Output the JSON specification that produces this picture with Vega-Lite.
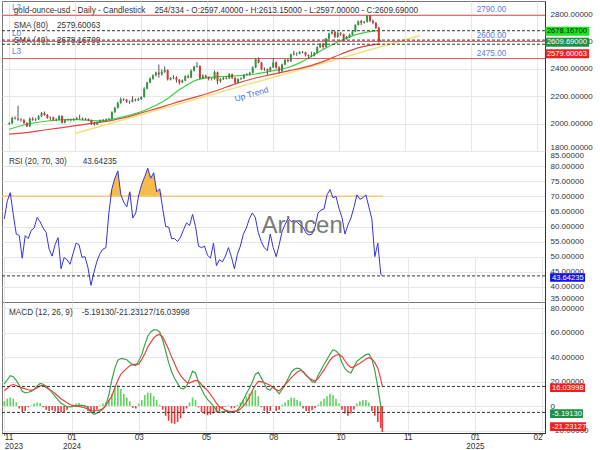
{
"$schema": "https://vega.github.io/schema/vega-lite/v6.json",
"padding": 0,
"background": "white",
"bounds": "flush",
"spacing": 0,
"config": {
 "font": "Liberation Sans",
 "view": {"stroke": "#777", "strokeWidth": 1},
 "axis": {"labelFontSize": 8, "labelColor": "#333", "gridColor": "#e6e6e6", "gridWidth": 1, "domainColor": "#333", "labelOverlap": false}
},
"datasets": {
"bars": [
{"t":0,"o":1995,"h":2010,"l":1990,"c":2002,"rsi":62.5,"macd":18.2,"sig":12.5,"hist":4},
{"t":2,"o":2002,"h":2050,"l":1998,"c":2041,"rsi":68.5,"macd":21.5,"sig":14.5,"hist":6},
{"t":4,"o":2041,"h":2052,"l":2030,"c":2036,"rsi":71.2,"macd":24.8,"sig":16.8,"hist":7},
{"t":6,"o":2036,"h":2130,"l":2020,"c":2029,"rsi":64,"macd":24,"sig":17.6,"hist":6},
{"t":8,"o":2029,"h":2040,"l":2015,"c":2025,"rsi":57.5,"macd":21,"sig":16.8,"hist":3},
{"t":10,"o":2025,"h":2034,"l":1998,"c":2004,"rsi":57,"macd":17,"sig":15.6,"hist":-2},
{"t":12,"o":2004,"h":2010,"l":1975,"c":1979,"rsi":49.5,"macd":12,"sig":14.9,"hist":-5},
{"t":14,"o":1979,"h":2045,"l":1976,"c":2036,"rsi":57,"macd":10.8,"sig":14,"hist":-4},
{"t":16,"o":2036,"h":2048,"l":2020,"c":2027,"rsi":56,"macd":11.3,"sig":13.3,"hist":-1},
{"t":18,"o":2027,"h":2040,"l":2018,"c":2031,"rsi":58.7,"macd":12,"sig":12.9,"hist":0.5},
{"t":20,"o":2031,"h":2062,"l":2025,"c":2053,"rsi":59.5,"macd":13.8,"sig":13.5,"hist":2},
{"t":22,"o":2053,"h":2085,"l":2048,"c":2077,"rsi":63,"macd":16.5,"sig":15,"hist":3},
{"t":24,"o":2077,"h":2088,"l":2058,"c":2063,"rsi":61.5,"macd":18.5,"sig":16.5,"hist":2.5},
{"t":26,"o":2063,"h":2070,"l":2035,"c":2042,"rsi":59.5,"macd":17.8,"sig":16.8,"hist":-1},
{"t":28,"o":2042,"h":2052,"l":2025,"c":2045,"rsi":58,"macd":16.2,"sig":15.2,"hist":-3},
{"t":30,"o":2045,"h":2050,"l":2022,"c":2029,"rsi":52.5,"macd":14,"sig":13.6,"hist":-4},
{"t":32,"o":2029,"h":2040,"l":2018,"c":2029,"rsi":50.2,"macd":11,"sig":12.2,"hist":-3.5},
{"t":34,"o":2029,"h":2062,"l":2025,"c":2055,"rsi":54,"macd":8,"sig":10.3,"hist":-4.5},
{"t":36,"o":2055,"h":2060,"l":2001,"c":2006,"rsi":56.3,"macd":5,"sig":8,"hist":-5},
{"t":38,"o":2006,"h":2032,"l":2002,"c":2029,"rsi":46,"macd":2.3,"sig":5.8,"hist":-5.2},
{"t":40,"o":2029,"h":2036,"l":2018,"c":2029,"rsi":49.7,"macd":0.8,"sig":4.3,"hist":-5},
{"t":42,"o":2029,"h":2035,"l":2015,"c":2025,"rsi":49,"macd":-0.5,"sig":2.8,"hist":-3},
{"t":44,"o":2025,"h":2038,"l":2018,"c":2030,"rsi":47.5,"macd":-0.6,"sig":1.3,"hist":-0.5},
{"t":46,"o":2030,"h":2048,"l":2026,"c":2038,"rsi":51,"macd":-0.2,"sig":0.4,"hist":1},
{"t":48,"o":2038,"h":2065,"l":2030,"c":2039,"rsi":54.5,"macd":0.4,"sig":0,"hist":2},
{"t":50,"o":2039,"h":2045,"l":2025,"c":2035,"rsi":54,"macd":0.6,"sig":-0.3,"hist":2.5},
{"t":52,"o":2035,"h":2042,"l":2026,"c":2033,"rsi":49.8,"macd":0.5,"sig":-0.8,"hist":1},
{"t":54,"o":2033,"h":2038,"l":2018,"c":2025,"rsi":50,"macd":0.2,"sig":-1.6,"hist":-1},
{"t":56,"o":2025,"h":2030,"l":1990,"c":2005,"rsi":46.4,"macd":-1.5,"sig":-2.6,"hist":-4},
{"t":58,"o":2005,"h":2012,"l":1985,"c":1993,"rsi":40.5,"macd":-5,"sig":-3.7,"hist":-5.5},
{"t":60,"o":1993,"h":2015,"l":1990,"c":2010,"rsi":44.8,"macd":-6.8,"sig":-4,"hist":-5},
{"t":62,"o":2010,"h":2030,"l":2005,"c":2022,"rsi":48.5,"macd":-5.8,"sig":-3.6,"hist":-3},
{"t":64,"o":2022,"h":2034,"l":2016,"c":2024,"rsi":51,"macd":-4.3,"sig":-3.1,"hist":0.5},
{"t":66,"o":2024,"h":2038,"l":2020,"c":2031,"rsi":52.5,"macd":-2.5,"sig":-2.2,"hist":2},
{"t":68,"o":2031,"h":2042,"l":2026,"c":2034,"rsi":53,"macd":1,"sig":0.5,"hist":3},
{"t":70,"o":2034,"h":2090,"l":2032,"c":2083,"rsi":64.5,"macd":9,"sig":4.5,"hist":5},
{"t":72,"o":2083,"h":2122,"l":2078,"c":2115,"rsi":72.5,"macd":21.5,"sig":8.2,"hist":10},
{"t":74,"o":2115,"h":2160,"l":2110,"c":2150,"rsi":76,"macd":31,"sig":15,"hist":15},
{"t":76,"o":2150,"h":2190,"l":2145,"c":2178,"rsi":78.4,"macd":37.5,"sig":21,"hist":17},
{"t":78,"o":2178,"h":2186,"l":2165,"c":2176,"rsi":70.5,"macd":38.8,"sig":26,"hist":14},
{"t":80,"o":2176,"h":2180,"l":2150,"c":2160,"rsi":68,"macd":38.6,"sig":28.5,"hist":10},
{"t":82,"o":2160,"h":2168,"l":2145,"c":2158,"rsi":66.5,"macd":37.8,"sig":30.8,"hist":7},
{"t":84,"o":2158,"h":2200,"l":2155,"c":2175,"rsi":71.5,"macd":35.6,"sig":33,"hist":4},
{"t":86,"o":2175,"h":2182,"l":2162,"c":2170,"rsi":62.8,"macd":33.5,"sig":34,"hist":-1.5},
{"t":88,"o":2170,"h":2190,"l":2165,"c":2178,"rsi":64.5,"macd":33,"sig":34,"hist":-2},
{"t":90,"o":2178,"h":2200,"l":2172,"c":2194,"rsi":70.5,"macd":37,"sig":34.2,"hist":2},
{"t":92,"o":2194,"h":2265,"l":2190,"c":2255,"rsi":74,"macd":42,"sig":38,"hist":5},
{"t":94,"o":2255,"h":2305,"l":2250,"c":2300,"rsi":76.5,"macd":50,"sig":42.5,"hist":9},
{"t":96,"o":2300,"h":2338,"l":2295,"c":2329,"rsi":79.3,"macd":57,"sig":48,"hist":11},
{"t":98,"o":2329,"h":2360,"l":2320,"c":2352,"rsi":76,"macd":60.5,"sig":52,"hist":10.5},
{"t":100,"o":2352,"h":2380,"l":2345,"c":2372,"rsi":77.8,"macd":62.3,"sig":55.5,"hist":8},
{"t":102,"o":2372,"h":2431,"l":2335,"c":2360,"rsi":71.5,"macd":62.3,"sig":57.8,"hist":5},
{"t":104,"o":2360,"h":2395,"l":2350,"c":2378,"rsi":72.5,"macd":60.5,"sig":58.5,"hist":1},
{"t":106,"o":2378,"h":2417,"l":2370,"c":2391,"rsi":66,"macd":54,"sig":56.5,"hist":-3},
{"t":108,"o":2391,"h":2395,"l":2315,"c":2322,"rsi":60,"macd":45,"sig":51.5,"hist":-8},
{"t":110,"o":2322,"h":2340,"l":2315,"c":2332,"rsi":59.8,"macd":35.5,"sig":46.3,"hist":-12},
{"t":112,"o":2332,"h":2352,"l":2325,"c":2336,"rsi":56,"macd":28,"sig":40,"hist":-14},
{"t":114,"o":2336,"h":2345,"l":2300,"c":2320,"rsi":56,"macd":22.5,"sig":34.5,"hist":-14.5},
{"t":116,"o":2320,"h":2325,"l":2285,"c":2301,"rsi":55,"macd":18.5,"sig":29,"hist":-13},
{"t":118,"o":2301,"h":2322,"l":2295,"c":2314,"rsi":56.5,"macd":14.5,"sig":25,"hist":-10},
{"t":120,"o":2314,"h":2352,"l":2310,"c":2346,"rsi":59,"macd":14,"sig":22,"hist":-6},
{"t":122,"o":2346,"h":2358,"l":2330,"c":2336,"rsi":61.2,"macd":16.5,"sig":19.5,"hist":-2},
{"t":124,"o":2336,"h":2395,"l":2332,"c":2386,"rsi":60.3,"macd":22,"sig":18.8,"hist":3},
{"t":126,"o":2386,"h":2422,"l":2380,"c":2415,"rsi":64,"macd":28.5,"sig":20,"hist":7},
{"t":128,"o":2415,"h":2450,"l":2410,"c":2421,"rsi":60,"macd":27,"sig":21,"hist":5},
{"t":130,"o":2421,"h":2425,"l":2325,"c":2329,"rsi":53.5,"macd":19.5,"sig":20.5,"hist":-1},
{"t":132,"o":2329,"h":2360,"l":2325,"c":2350,"rsi":53,"macd":14,"sig":17.5,"hist":-5},
{"t":134,"o":2350,"h":2358,"l":2332,"c":2338,"rsi":53.5,"macd":9,"sig":15,"hist":-6.5},
{"t":136,"o":2338,"h":2345,"l":2315,"c":2327,"rsi":50.5,"macd":5.5,"sig":12.8,"hist":-7.5},
{"t":138,"o":2327,"h":2335,"l":2315,"c":2326,"rsi":49.5,"macd":2.8,"sig":9.5,"hist":-7},
{"t":140,"o":2326,"h":2388,"l":2320,"c":2375,"rsi":54.5,"macd":0,"sig":6,"hist":-6},
{"t":142,"o":2375,"h":2380,"l":2288,"c":2310,"rsi":47,"macd":-3.5,"sig":2.2,"hist":-5},
{"t":144,"o":2310,"h":2332,"l":2298,"c":2325,"rsi":49,"macd":-5.3,"sig":-0.5,"hist":-4},
{"t":146,"o":2325,"h":2340,"l":2318,"c":2333,"rsi":48.3,"macd":-4.8,"sig":-2,"hist":-2},
{"t":148,"o":2333,"h":2345,"l":2322,"c":2330,"rsi":50.2,"macd":-4.1,"sig":-3.3,"hist":-0.5},
{"t":150,"o":2330,"h":2368,"l":2325,"c":2360,"rsi":53,"macd":-4.8,"sig":-4.1,"hist":0.5},
{"t":152,"o":2360,"h":2365,"l":2325,"c":2334,"rsi":50,"macd":-5.3,"sig":-4.3,"hist":-2},
{"t":154,"o":2334,"h":2338,"l":2295,"c":2298,"rsi":46,"macd":-4.6,"sig":-4.3,"hist":-1.5},
{"t":156,"o":2298,"h":2330,"l":2295,"c":2326,"rsi":50.8,"macd":-3.2,"sig":-4.1,"hist":1},
{"t":158,"o":2326,"h":2338,"l":2318,"c":2330,"rsi":53.5,"macd":0,"sig":-2.5,"hist":3},
{"t":160,"o":2330,"h":2362,"l":2325,"c":2356,"rsi":57.5,"macd":5,"sig":0,"hist":5},
{"t":162,"o":2356,"h":2368,"l":2350,"c":2359,"rsi":59.5,"macd":10,"sig":3,"hist":8},
{"t":164,"o":2359,"h":2378,"l":2352,"c":2371,"rsi":62.5,"macd":14.5,"sig":7.5,"hist":10},
{"t":166,"o":2371,"h":2418,"l":2365,"c":2411,"rsi":64.5,"macd":19.5,"sig":12.5,"hist":12},
{"t":168,"o":2411,"h":2475,"l":2405,"c":2469,"rsi":63,"macd":26,"sig":17,"hist":13},
{"t":170,"o":2469,"h":2483,"l":2440,"c":2445,"rsi":58,"macd":27.5,"sig":20.2,"hist":8},
{"t":172,"o":2445,"h":2450,"l":2390,"c":2396,"rsi":55,"macd":23,"sig":20,"hist":-1},
{"t":174,"o":2396,"h":2410,"l":2385,"c":2398,"rsi":53,"macd":18.5,"sig":19,"hist":-4},
{"t":176,"o":2398,"h":2402,"l":2355,"c":2387,"rsi":52,"macd":14,"sig":18,"hist":-6},
{"t":178,"o":2387,"h":2415,"l":2380,"c":2410,"rsi":57.5,"macd":13,"sig":17,"hist":-4},
{"t":180,"o":2410,"h":2478,"l":2405,"c":2447,"rsi":53,"macd":16,"sig":15,"hist":0.5},
{"t":182,"o":2447,"h":2455,"l":2400,"c":2409,"rsi":50,"macd":13,"sig":13.3,"hist":-4},
{"t":184,"o":2409,"h":2420,"l":2365,"c":2382,"rsi":54,"macd":10,"sig":12.4,"hist":-3},
{"t":186,"o":2382,"h":2438,"l":2378,"c":2431,"rsi":58.5,"macd":13.5,"sig":14.8,"hist":1},
{"t":188,"o":2431,"h":2472,"l":2425,"c":2465,"rsi":60.7,"macd":17.7,"sig":17.5,"hist":3},
{"t":190,"o":2465,"h":2472,"l":2448,"c":2456,"rsi":62.8,"macd":22.5,"sig":20.2,"hist":5},
{"t":192,"o":2456,"h":2510,"l":2450,"c":2505,"rsi":61.6,"macd":27.5,"sig":23,"hist":7},
{"t":194,"o":2505,"h":2531,"l":2498,"c":2512,"rsi":62,"macd":30,"sig":25.5,"hist":6.5},
{"t":196,"o":2512,"h":2520,"l":2495,"c":2511,"rsi":61.5,"macd":31,"sig":27.6,"hist":5},
{"t":198,"o":2511,"h":2528,"l":2505,"c":2524,"rsi":60.4,"macd":30.5,"sig":29.2,"hist":4},
{"t":200,"o":2524,"h":2530,"l":2512,"c":2521,"rsi":59.8,"macd":27.7,"sig":28.2,"hist":-2},
{"t":202,"o":2521,"h":2525,"l":2490,"c":2500,"rsi":57.8,"macd":25,"sig":25.5,"hist":-4},
{"t":204,"o":2500,"h":2505,"l":2472,"c":2494,"rsi":57.2,"macd":22.8,"sig":23,"hist":-4.5},
{"t":206,"o":2494,"h":2525,"l":2485,"c":2497,"rsi":57.5,"macd":20,"sig":21.5,"hist":-3.5},
{"t":208,"o":2497,"h":2522,"l":2490,"c":2516,"rsi":60,"macd":19.5,"sig":20.5,"hist":-1.5},
{"t":210,"o":2516,"h":2565,"l":2512,"c":2558,"rsi":64.5,"macd":25,"sig":22.5,"hist":1},
{"t":212,"o":2558,"h":2589,"l":2552,"c":2582,"rsi":65.4,"macd":29.5,"sig":26,"hist":4},
{"t":214,"o":2582,"h":2590,"l":2546,"c":2559,"rsi":65.8,"macd":34,"sig":29.5,"hist":6},
{"t":216,"o":2559,"h":2625,"l":2555,"c":2621,"rsi":70.5,"macd":38.1,"sig":33.5,"hist":8},
{"t":218,"o":2621,"h":2664,"l":2615,"c":2657,"rsi":72.2,"macd":42.5,"sig":37.5,"hist":10},
{"t":220,"o":2657,"h":2685,"l":2650,"c":2671,"rsi":69.5,"macd":46,"sig":40,"hist":9},
{"t":222,"o":2671,"h":2675,"l":2625,"c":2634,"rsi":70,"macd":45,"sig":41.5,"hist":6},
{"t":224,"o":2634,"h":2672,"l":2625,"c":2659,"rsi":66,"macd":42.5,"sig":42.2,"hist":2},
{"t":226,"o":2659,"h":2668,"l":2640,"c":2653,"rsi":63,"macd":35.5,"sig":40.5,"hist":-3},
{"t":228,"o":2653,"h":2657,"l":2605,"c":2622,"rsi":57.5,"macd":30.5,"sig":37,"hist":-6},
{"t":230,"o":2622,"h":2640,"l":2614,"c":2631,"rsi":60.5,"macd":28.3,"sig":33.5,"hist":-8},
{"t":232,"o":2631,"h":2656,"l":2625,"c":2649,"rsi":62.8,"macd":27,"sig":31.5,"hist":-6},
{"t":234,"o":2649,"h":2680,"l":2644,"c":2674,"rsi":66.3,"macd":32,"sig":32,"hist":-3},
{"t":236,"o":2674,"h":2725,"l":2668,"c":2721,"rsi":70.5,"macd":36.5,"sig":33.5,"hist":2},
{"t":238,"o":2721,"h":2752,"l":2715,"c":2748,"rsi":69,"macd":38.5,"sig":35,"hist":4},
{"t":240,"o":2748,"h":2758,"l":2718,"c":2736,"rsi":69.5,"macd":40.3,"sig":36.5,"hist":5},
{"t":242,"o":2736,"h":2750,"l":2730,"c":2743,"rsi":70.5,"macd":42,"sig":38.5,"hist":5},
{"t":244,"o":2743,"h":2790,"l":2738,"c":2788,"rsi":66.5,"macd":42.5,"sig":39.6,"hist":3},
{"t":246,"o":2788,"h":2792,"l":2740,"c":2750,"rsi":62.5,"macd":38.5,"sig":38.5,"hist":-4},
{"t":248,"o":2750,"h":2760,"l":2725,"c":2735,"rsi":50,"macd":29,"sig":35.5,"hist":-8},
{"t":250,"o":2735,"h":2742,"l":2690,"c":2700,"rsi":54.5,"macd":15.5,"sig":31,"hist":-13},
{"t":252,"o":2700,"h":2708,"l":2592,"c":2597,"rsi":44.2,"macd":0,"sig":22,"hist":-18},
{"t":253,"o":2597.4,"h":2613.15,"l":2597,"c":2609.69,"rsi":43.64235,"macd":-5.1913,"sig":16.03998,"hist":-21.23127}
],
"sma": [
{"t":0,"s40":1959,"s80":1923},
{"t":12,"s40":1995,"s80":1934},
{"t":25,"s40":2017,"s80":1955},
{"t":43,"s40":2031,"s80":1981},
{"t":61,"s40":2020,"s80":2009},
{"t":70,"s40":2031,"s80":2024},
{"t":79,"s40":2053,"s80":2045},
{"t":92,"s40":2096,"s80":2085},
{"t":106,"s40":2168,"s80":2128},
{"t":117,"s40":2254,"s80":2164},
{"t":128,"s40":2319,"s80":2197},
{"t":141,"s40":2341,"s80":2240},
{"t":154,"s40":2348,"s80":2290},
{"t":168,"s40":2362,"s80":2333},
{"t":179,"s40":2384,"s80":2359},
{"t":191,"s40":2413,"s80":2387},
{"t":199,"s40":2449,"s80":2405},
{"t":213,"s40":2535,"s80":2449},
{"t":226,"s40":2607,"s80":2506},
{"t":239,"s40":2657,"s80":2557},
{"t":248,"s40":2675,"s80":2575},
{"t":253,"s40":2678.167,"s80":2579.60063}
],
"trend": [{"t":45.3,"p":1930},{"t":280.3,"p":2643}],
"levels": [{"v":2790,"name":"L2"},{"v":2600,"name":"L0"},{"v":2475,"name":"L3"}]
},
"vconcat": [
{
 "width": 543, "height": 150,
 "data": {"values": [{}]},
 "layer": [
  {"data": {"name": "trend"}, "mark": {"type": "line", "color": "#f2e07a", "strokeWidth": 1.5},
   "encoding": {
    "x": {"field": "t", "type": "quantitative", "scale": {"domain": [-1.54, 361.9], "nice": false, "zero": false},
          "axis": {"values": [0,45,90,135,180,225,270,315,360], "tickCount": 20, "labels": false, "ticks": false, "domain": false, "grid": true, "title": null}},
    "y": {"field": "p", "type": "quantitative", "scale": {"domain": [1800, 2895], "nice": false, "zero": false},
          "axis": {"orient": "right", "values": [1800,2000,2200,2400,2600,2800], "tickCount": 20, "format": ".5f", "title": null, "grid": true, "ticks": false, "labelPadding": 5, "labelFlush": true, "labelOverlap": false}}
   }},
  {"data": {"name": "sma"}, "mark": {"type": "line", "color": "#e2463e", "strokeWidth": 1.2, "interpolate": "monotone"},
   "encoding": {"x": {"field": "t", "type": "quantitative"}, "y": {"field": "s80", "type": "quantitative"}}},
  {"data": {"name": "sma"}, "mark": {"type": "line", "color": "#3fd03f", "strokeWidth": 1.2, "interpolate": "monotone"},
   "encoding": {"x": {"field": "t", "type": "quantitative"}, "y": {"field": "s40", "type": "quantitative"}}},
  {"mark": {"type": "text", "align": "left", "baseline": "middle", "fontSize": 8.2, "color": "#333"},
   "encoding": {"x": {"datum": 3.1}, "y": {"datum": 2822}, "text": {"value": "gold-ounce-usd - Daily - Candlestick\u00a0\u00a0\u00a0\u00a0254/334 - O:2597.40000 - H:2613.15000 - L:2597.00000 - C:2609.69000"}}},
  {"mark": {"type": "text", "align": "left", "baseline": "middle", "fontSize": 8.2, "color": "#333"},
   "encoding": {"x": {"datum": 3.1}, "y": {"datum": 2712.5}, "text": {"value": "SMA (80)\u00a0\u00a0\u00a0\u00a02579.60063"}}},
  {"mark": {"type": "text", "align": "left", "baseline": "middle", "fontSize": 8.2, "color": "#333"},
   "encoding": {"x": {"datum": 3.1}, "y": {"datum": 2603}, "text": {"value": "SMA (40)\u00a0\u00a0\u00a0\u00a02678.16700"}}},
  {"data": {"name": "levels"}, "mark": {"type": "rule", "color": "#e25a5a", "strokeWidth": 1},
   "encoding": {"y": {"field": "v", "type": "quantitative"}}},
  {"data": {"values": [{"v": 2678.167}, {"v": 2609.69}, {"v": 2579.60063}]}, "mark": {"type": "rule", "color": "#333", "strokeWidth": 1, "strokeDash": [3, 2]},
   "encoding": {"y": {"field": "v", "type": "quantitative"}}},
  {"data": {"name": "bars"}, "mark": {"type": "rule", "color": "#555", "strokeWidth": 1},
   "encoding": {"x": {"field": "t", "type": "quantitative"}, "y": {"field": "l", "type": "quantitative"}, "y2": {"field": "h"}}},
  {"data": {"name": "bars"}, "mark": {"type": "bar", "width": 2},
   "encoding": {"x": {"field": "t", "type": "quantitative"}, "y": {"field": "o", "type": "quantitative"}, "y2": {"field": "c"},
    "color": {"condition": {"test": "datum.c >= datum.o", "value": "#2f9a3c"}, "value": "#d9362f"}}},
  {"mark": {"type": "text", "align": "center", "baseline": "middle", "fontSize": 8.5, "color": "#4b6fe0", "angle": 344},
   "encoding": {"x": {"datum": 165.1}, "y": {"datum": 2216}, "text": {"value": "Up Trend"}}},
  {"data": {"name": "levels"}, "mark": {"type": "text", "align": "left", "baseline": "middle", "dy": -7, "fontSize": 8.2, "color": "#5a7de0"},
   "encoding": {"x": {"datum": 1.8}, "y": {"field": "v", "type": "quantitative"}, "text": {"field": "name"}}},
  {"data": {"name": "levels"}, "mark": {"type": "text", "align": "center", "baseline": "middle", "dy": -5, "fontSize": 8.2, "color": "#5a7de0"},
   "encoding": {"x": {"datum": 328.8}, "y": {"field": "v", "type": "quantitative"}, "text": {"field": "v", "format": ".2f"}}},
  {"mark": {"type": "rect", "color": "#19e619", "yOffset": -3.9, "y2Offset": 5.1},
   "encoding": {"x": {"datum": 365.6}, "x2": {"datum": 395.4}, "y": {"datum": 2678.167}, "y2": {"datum": 2678.167}}},
  {"mark": {"type": "text", "align": "left", "baseline": "middle", "dy": 0.6, "fontSize": 7.6, "color": "#111"},
   "encoding": {"x": {"datum": 366.6}, "y": {"datum": 2678.167}, "text": {"value": "2678.16700"}}},
  {"mark": {"type": "rect", "color": "#1f8f47", "yOffset": -2.4, "y2Offset": 6.6},
   "encoding": {"x": {"datum": 365.6}, "x2": {"datum": 395.4}, "y": {"datum": 2609.69}, "y2": {"datum": 2609.69}}},
  {"mark": {"type": "text", "align": "left", "baseline": "middle", "dy": 2.1, "fontSize": 7.6, "color": "white"},
   "encoding": {"x": {"datum": 366.6}, "y": {"datum": 2609.69}, "text": {"value": "2609.69000"}}},
  {"mark": {"type": "rect", "color": "#f01e1e", "yOffset": 5.1, "y2Offset": 14.1},
   "encoding": {"x": {"datum": 365.6}, "x2": {"datum": 395.4}, "y": {"datum": 2579.60063}, "y2": {"datum": 2579.60063}}},
  {"mark": {"type": "text", "align": "left", "baseline": "middle", "dy": 9.6, "fontSize": 7.6, "color": "white"},
   "encoding": {"x": {"datum": 366.6}, "y": {"datum": 2579.60063}, "text": {"value": "2579.60063"}}}
 ]
},
{
 "width": 543, "height": 151,
 "data": {"values": [{}]},
 "resolve": {"scale": {"y": "independent"}},
 "layer": [
  {"data": {"name": "bars"}, "transform": [{"filter": {"field": "t", "lte": 180}}],
   "mark": {"type": "area", "color": "#f5bd47"},
   "encoding": {
    "x": {"field": "t", "type": "quantitative", "scale": {"domain": [-1.54, 361.9], "nice": false, "zero": false},
          "axis": {"values": [0,45,90,135,180,225,270,315,360], "tickCount": 20, "labels": false, "ticks": false, "domain": false, "grid": true, "title": null}},
    "y": {"field": "rsi", "type": "quantitative", "scale": {"domain": [70, 85], "range": [45.3, 0], "clamp": true, "nice": false, "zero": false}, "axis": null},
    "y2": {"datum": 70}
   }},
  {"layer": [
    {"mark": {"type": "rule", "color": "#f7c77c", "strokeWidth": 1.6},
     "encoding": {"x": {"datum": -1.54}, "x2": {"datum": 253.5}, "y": {"datum": 70, "type": "quantitative", "scale": {"domain": [35, 85], "nice": false, "zero": false}}}},
    {"data": {"name": "bars"}, "mark": {"type": "line", "color": "#3434e0", "strokeWidth": 1},
     "encoding": {"x": {"field": "t", "type": "quantitative"},
      "y": {"field": "rsi", "type": "quantitative", "scale": {"domain": [35, 85], "nice": false, "zero": false},
            "axis": {"orient": "right", "values": [35,40,45,50,55,60,65,70,75,80,85], "tickCount": 30, "format": ".5f", "title": null, "grid": true, "ticks": false, "labelPadding": 5, "labelFlush": true, "labelOverlap": false}}}},
    {"mark": {"type": "rule", "color": "#333", "strokeWidth": 1, "strokeDash": [3, 2]},
     "encoding": {"y": {"datum": 43.64235}}},
    {"mark": {"type": "text", "align": "center", "baseline": "middle", "fontSize": 24, "color": "#6b6b6b", "opacity": 0.9},
     "encoding": {"x": {"datum": 199.3}, "y": {"datum": 60.2}, "text": {"value": "Arincen"}}},
    {"mark": {"type": "text", "align": "left", "baseline": "middle", "fontSize": 8.2, "color": "#333"},
     "encoding": {"x": {"datum": 3.1}, "y": {"datum": 81.2}, "text": {"value": "RSI (20, 70, 30)\u00a0\u00a0\u00a0\u00a0\u00a0\u00a0\u00a043.64235"}}},
    {"mark": {"type": "rect", "color": "#1212e8", "yOffset": -2.6, "y2Offset": 5.8},
     "encoding": {"x": {"datum": 365.3}, "x2": {"datum": 388.7}, "y": {"datum": 43.64235}, "y2": {"datum": 43.64235}}},
    {"mark": {"type": "text", "align": "left", "baseline": "middle", "dy": 1.6, "fontSize": 7.6, "color": "white"},
     "encoding": {"x": {"datum": 366.6}, "y": {"datum": 43.64235}, "text": {"value": "43.64235"}}}
  ]}
 ]
},
{
 "width": 543, "height": 131,
 "data": {"values": [{}]},
 "layer": [
  {"data": {"name": "bars"}, "mark": {"type": "rule", "strokeWidth": 1.6},
   "encoding": {
    "x": {"field": "t", "type": "quantitative", "scale": {"domain": [-1.54, 361.9], "nice": false, "zero": false},
          "axis": {"values": [0,45,90,135,180,225,270,315,360], "tickCount": 20, "grid": true, "domain": true, "ticks": true, "tickSize": 2, "tickColor": "#666", "labelPadding": -2, "labelFontSize": 8.2, "labelLineHeight": 9, "labelFlush": 5, "labelOverlap": false, "title": null,
                   "labelExpr": "datum.value == 0 ? ['11', '2023'] : datum.value == 45 ? ['01', '2024'] : datum.value == 90 ? '03' : datum.value == 135 ? '05' : datum.value == 180 ? '08' : datum.value == 225 ? '10' : datum.value == 270 ? '11' : datum.value == 315 ? ['01', '2025'] : '02'"}},
    "y": {"field": "hist", "type": "quantitative", "scale": {"domain": [-22, 85], "nice": false, "zero": false},
          "axis": {"orient": "right", "values": [-20,0,20,40,60,80], "tickCount": 20, "labelExpr": "datum.value == 0 ? '0' : format(datum.value, '.5f')", "title": null, "grid": true, "ticks": false, "labelPadding": 5, "labelOverlap": false}},
    "y2": {"datum": 0},
    "color": {"condition": {"test": "datum.hist >= 0", "value": "#5ad65a"}, "value": "#ee3a3a"}
   }},
  {"data": {"name": "bars"}, "mark": {"type": "line", "color": "#3aa64c", "strokeWidth": 1.2},
   "encoding": {"x": {"field": "t", "type": "quantitative"}, "y": {"field": "macd", "type": "quantitative"}}},
  {"data": {"name": "bars"}, "mark": {"type": "line", "color": "#e5423b", "strokeWidth": 1.2},
   "encoding": {"x": {"field": "t", "type": "quantitative"}, "y": {"field": "sig", "type": "quantitative"}}},
  {"data": {"values": [{"v": 16.03998}, {"v": -5.1913}]}, "mark": {"type": "rule", "color": "#333", "strokeWidth": 1, "strokeDash": [3, 2]},
   "encoding": {"y": {"field": "v", "type": "quantitative"}}},
  {"mark": {"type": "text", "align": "left", "baseline": "middle", "fontSize": 8.2, "color": "#333"},
   "encoding": {"x": {"datum": 3.1}, "y": {"datum": 76.3}, "text": {"value": "MACD (12, 26, 9)\u00a0\u00a0\u00a0\u00a0-5.19130/-21.23127/16.03998"}}},
  {"mark": {"type": "rect", "color": "#f01e1e", "yOffset": -3.05, "y2Offset": 5.65},
   "encoding": {"x": {"datum": 365.3}, "x2": {"datum": 388.7}, "y": {"datum": 16.03998}, "y2": {"datum": 16.03998}}},
  {"mark": {"type": "text", "align": "left", "baseline": "middle", "dy": 1.3, "fontSize": 7.6, "color": "white"},
   "encoding": {"x": {"datum": 366.6}, "y": {"datum": 16.03998}, "text": {"value": "16.03998"}}},
  {"mark": {"type": "rect", "color": "#1f8f47", "yOffset": -3.05, "y2Offset": 5.65},
   "encoding": {"x": {"datum": 365.3}, "x2": {"datum": 387.3}, "y": {"datum": -5.1913}, "y2": {"datum": -5.1913}}},
  {"mark": {"type": "text", "align": "left", "baseline": "middle", "dy": 1.3, "fontSize": 7.6, "color": "white"},
   "encoding": {"x": {"datum": 366.6}, "y": {"datum": -5.1913}, "text": {"value": "-5.19130"}}},
  {"mark": {"type": "rect", "color": "#f01e1e", "yOffset": -9.85, "y2Offset": -1.15},
   "encoding": {"x": {"datum": 365.3}, "x2": {"datum": 389.4}, "y": {"datum": -21.23127}, "y2": {"datum": -21.23127}}},
  {"mark": {"type": "text", "align": "left", "baseline": "middle", "dy": -5.5, "fontSize": 7.6, "color": "white"},
   "encoding": {"x": {"datum": 366.6}, "y": {"datum": -21.23127}, "text": {"value": "-21.23127"}}}
 ]
}
]
}
